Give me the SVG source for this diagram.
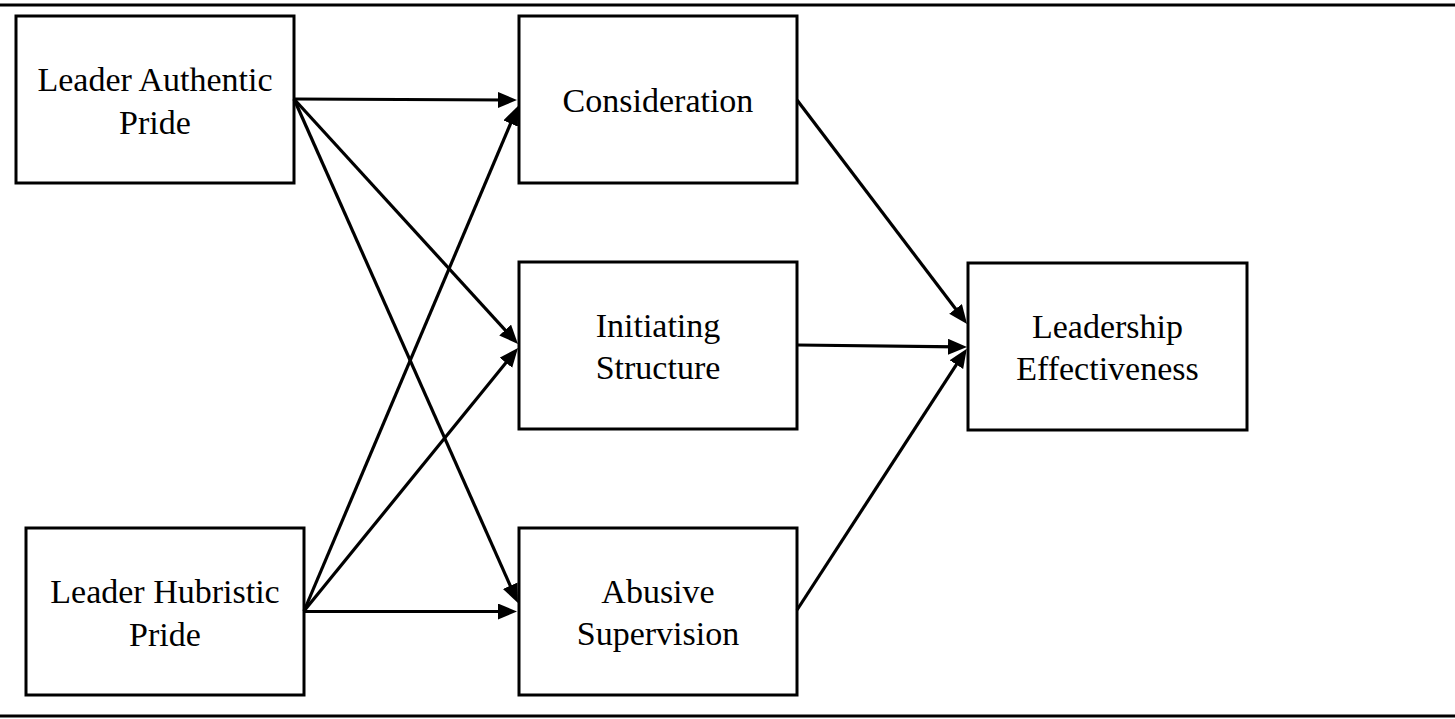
<svg xmlns="http://www.w3.org/2000/svg" width="1455" height="719" viewBox="0 0 1455 719">
<style>
.box{fill:#fff;stroke:#000;stroke-width:3}
.lbl{font-family:"Liberation Serif","Times New Roman",serif;font-size:34px;fill:#000;text-anchor:middle}
.rule{stroke:#000;stroke-width:3}
.conn line{stroke:#000;stroke-width:3.2;marker-end:url(#ah)}
</style>
<defs>
<marker id="ah" markerUnits="userSpaceOnUse" markerWidth="22" markerHeight="18" refX="10" refY="8" orient="auto">
<path d="M0,0 L19,8 L0,16 z" fill="#000"/>
</marker>
</defs>
<rect width="1455" height="719" fill="#fff"/>
<line class="rule" x1="0" y1="5" x2="1455" y2="5"/>
<line class="rule" x1="0" y1="716" x2="1455" y2="716"/>
<g id="n-authentic"><rect class="box" x="16" y="16" width="278" height="167"/><text class="lbl" x="155" y="91">Leader Authentic</text><text class="lbl" x="155" y="134">Pride</text></g>
<g id="n-hubristic"><rect class="box" x="26" y="528" width="278" height="167"/><text class="lbl" x="165" y="603">Leader Hubristic</text><text class="lbl" x="165" y="646">Pride</text></g>
<g id="n-consideration"><rect class="box" x="519" y="16" width="278" height="167"/><text class="lbl" x="658" y="112">Consideration</text></g>
<g id="n-initiating"><rect class="box" x="519" y="262" width="278" height="167"/><text class="lbl" x="658" y="337">Initiating</text><text class="lbl" x="658" y="379">Structure</text></g>
<g id="n-abusive"><rect class="box" x="519" y="528" width="278" height="167"/><text class="lbl" x="658" y="603">Abusive</text><text class="lbl" x="658" y="645">Supervision</text></g>
<g id="n-effectiveness"><rect class="box" x="968" y="263" width="279" height="167"/><text class="lbl" x="1107.5" y="338">Leadership</text><text class="lbl" x="1107.5" y="380">Effectiveness</text></g>
<g id="connectors" class="conn">
<line x1="294" y1="99" x2="508" y2="100"/>
<line x1="294" y1="99" x2="511.9" y2="337.4"/>
<line x1="294" y1="99" x2="514.3" y2="594.8"/>
<line x1="304" y1="611" x2="514.5" y2="114.3"/>
<line x1="304" y1="611" x2="512.3" y2="355"/>
<line x1="304" y1="611.5" x2="508" y2="611.5"/>
<line x1="797" y1="100" x2="961.6" y2="316.8"/>
<line x1="797" y1="345" x2="958" y2="346.9"/>
<line x1="797" y1="610" x2="961.9" y2="356.2"/>
</g>
</svg>
